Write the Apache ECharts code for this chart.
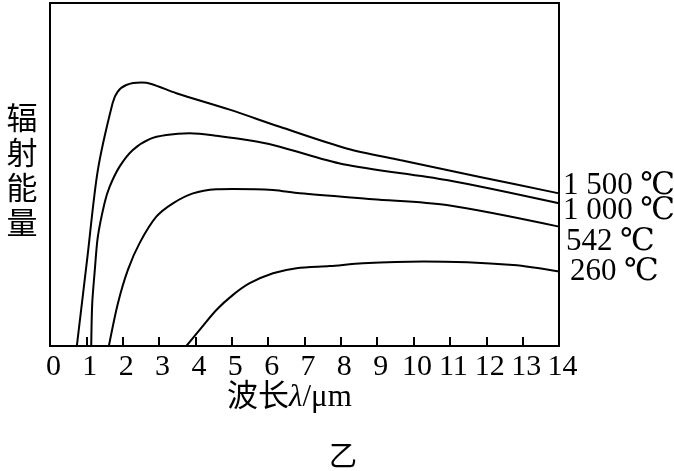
<!DOCTYPE html>
<html>
<head>
<meta charset="utf-8">
<script src="https://cdn.jsdelivr.net/npm/echarts@6.0.0/dist/echarts.min.js"></script>
<style>
html,body{margin:0;padding:0;background:#fff;}
#chart{width:674px;height:471px;}
</style>
</head>
<body>
<div id="chart"></div>
<script>
// wavelength (µm) tick range
const xTicks = [0,1,2,3,4,5,6,7,8,9,10,11,12,13,14];
const seriesNames = ['1 500 ℃', '1 000 ℃', '542 ℃', '260 ℃'];

// [wavelength µm, relative radiant energy]
const curve1500 = [
  [0.738,0],[1.032,26.2],[1.316,51.3],[1.721,70.8],[1.858,74.1],[2.098,76.1],[2.511,76.8],
  [2.786,76.4],[3.475,73.7],[4.942,68.9],[6.319,63.9],[8.155,57.6],[9.622,54.2],[11.825,49.3],[14.0,44.5]
];
const curve1000 = [
  [1.134,0],[1.162,12.5],[1.233,22.2],[1.316,31.9],[1.501,41.7],[1.639,46.4],[1.913,52.3],[2.271,57.1],
  [2.740,60.3],[3.199,61.5],[3.841,62.0],[4.576,61.3],[5.677,59.6],[6.319,58.1],[8.062,53.0],[10.909,48.4],[14.0,41.6]
];
const curve542 = [
  [1.619,0],[1.867,12.4],[2.142,22.2],[2.464,30.0],[2.924,37.7],[3.381,41.6],[3.932,44.5],[4.576,45.7],
  [5.033,45.8],[6.134,45.5],[6.870,44.5],[8.880,42.8],[10.909,41.1],[14.0,34.8]
];
const curve260 = [
  [3.750,0],[4.116,4.7],[4.576,10.5],[5.033,14.9],[5.493,18.3],[6.134,21.2],[6.779,22.7],[7.695,23.3],
  [8.604,24.1],[10.264,24.6],[12.742,23.6],[14.0,21.7]
];
const yTitle = ['辐', '射', '能', '量'];

const curves = [curve1500, curve1000, curve542, curve260];
const labelY = [186, 211, 242, 272];
const labelX = [563, 563, 566, 570];

const serif = '"Liberation Serif", "DejaVu Serif", "Noto Sans CJK SC", serif';
const cjk = '"Noto Sans CJK SC", sans-serif';
const chart = echarts.init(document.getElementById('chart'), null, {renderer: 'canvas'});

const graphics = seriesNames.map((n, i) => ({
  type: 'text',
  style: {
    text: n, x: labelX[i], y: labelY[i],
    font: '31px ' + serif, fill: '#000',
    align: 'left', verticalAlign: 'middle'
  }
}));
graphics.push({
  type: 'text',
  style: {
    text: '波长{i|λ}/μm', x: 227, y: 398,
    font: '31px ' + serif, fill: '#000',
    align: 'left', verticalAlign: 'middle',
    rich: { i: { fontStyle: 'italic', fontSize: 31, fontFamily: serif } }
  }
});
graphics.push({
  type: 'text',
  style: {
    text: yTitle.join('\n'), x: 22, y: 170,
    font: '31px ' + cjk, fill: '#000', lineHeight: 35,
    align: 'center', verticalAlign: 'middle'
  }
});
graphics.push({
  type: 'text',
  style: {
    text: '乙', x: 343, y: 455,
    font: '28px ' + cjk, fill: '#000',
    align: 'center', verticalAlign: 'middle'
  }
});

chart.setOption({
  animation: false,
  backgroundColor: '#fff',
  grid: { left: 50, right: 115, top: 3, bottom: 125, outerBoundsMode: 'none', containLabel: false,
          show: true, borderColor: '#000', borderWidth: 2, backgroundColor: 'transparent' },
  xAxis: {
    type: 'value', min: xTicks[0], max: xTicks[xTicks.length - 1], interval: 1,
    axisLine: { show: true, lineStyle: { color: '#000', width: 2 } },
    axisTick: { show: true, inside: true, length: 9, lineStyle: { color: '#000', width: 2 } },
    axisLabel: { color: '#000', fontSize: 30, fontFamily: serif, margin: 6, padding: [0, 0, 0, 7] },
    splitLine: { show: false }
  },
  yAxis: {
    type: 'value', min: 0, max: 100,
    axisLine: { show: true, lineStyle: { color: '#000', width: 2 } },
    axisTick: { show: false }, axisLabel: { show: false }, splitLine: { show: false }
  },
  graphic: graphics,
  series: curves.map((c, i) => ({
    name: seriesNames[i], type: 'line', data: c, smooth: 0.3, showSymbol: false,
    lineStyle: { color: '#000', width: 2 }, clip: true
  }))
});
</script>
</body>
</html>
